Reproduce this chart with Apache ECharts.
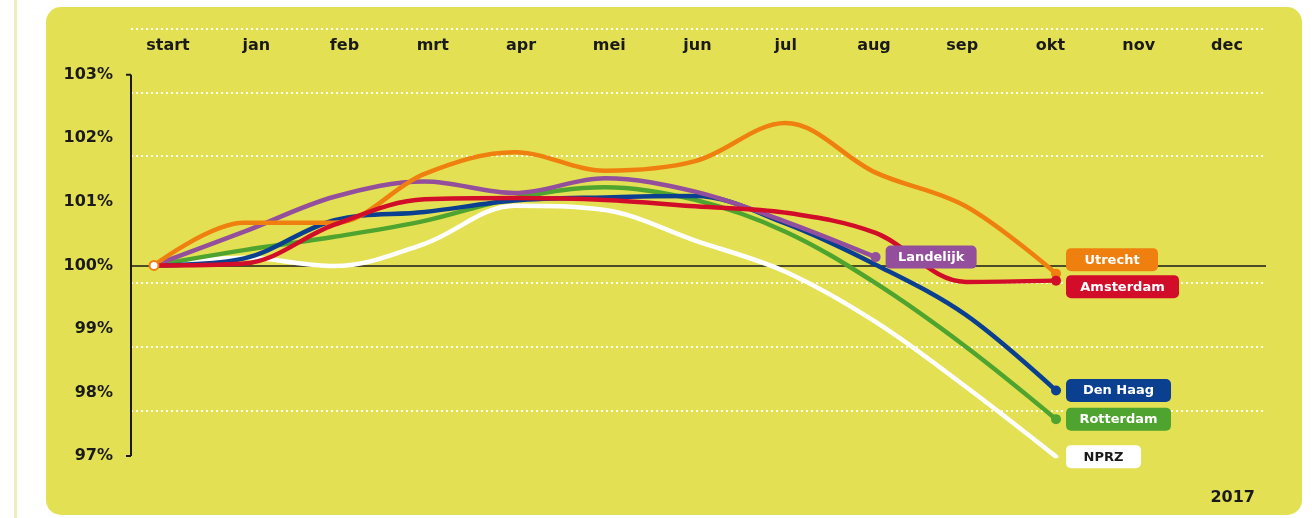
<!DOCTYPE html>
<html>
<head>
<meta charset="utf-8">
<script src="https://cdn.jsdelivr.net/npm/echarts@6/dist/echarts.min.js"></script>
<style>
  html, body { margin: 0; padding: 0; background: #ffffff; }
  #wrap { position: relative; width: 1312px; height: 518px; overflow: hidden; }
  #strip { position: absolute; left: 14px; top: 0; width: 3px; height: 518px; background: #efeeb8; }
  #panel { position: absolute; left: 46px; top: 7px; width: 1256px; height: 508px; background: #e3e153; border-radius: 15px; }
  #chart { position: absolute; left: 0; top: 0; width: 1312px; height: 518px; }
</style>
</head>
<body>
<div id="wrap">
  <div id="strip"></div>
  <div id="panel"></div>
  <div id="chart"></div>
</div>
<script>
// ---- data ----
const monthLabels = ['start', 'jan', 'feb', 'mrt', 'apr', 'mei', 'jun', 'jul', 'aug', 'sep', 'okt', 'nov', 'dec'];
const yTickValues = [97, 98, 99, 100, 101, 102, 103];
const gridLineValues = [103.72, 102.72, 101.72, 99.72, 98.72, 97.72];

const nprz      = [100, 100.12, 99.99, 100.34, 100.94, 100.87, 100.39, 99.90, 99.11, 98.09, 96.99];
const rotterdam = [100, 100.24, 100.45, 100.70, 101.06, 101.23, 101.03, 100.53, 99.72, 98.72, 97.58];
const denHaag   = [100, 100.11, 100.71, 100.84, 101.02, 101.07, 101.09, 100.66, 100.01, 99.22, 98.03];
const landelijk = [100, 100.53, 101.08, 101.32, 101.14, 101.37, 101.16, 100.69, 100.13];
const utrecht   = [100, 100.67, 100.67, 101.44, 101.78, 101.49, 101.64, 102.24, 101.46, 100.93, 99.87];
const amsterdam = [100, 100.03, 100.64, 101.04, 101.06, 101.03, 100.93, 100.83, 100.51, 99.74, 99.76];

const FONT = '"DejaVu Sans", sans-serif';
const X_MIN = -0.255, X_MAX = 12.328;

function mkData(arr, color, withStart) {
  return arr.map((v, i) => {
    const item = { value: [i, v] };
    if (i === arr.length - 1) {
      item.symbol = 'circle';
      item.symbolSize = 10;
      item.itemStyle = { color: color };
    } else if (i === 0 && withStart) {
      item.symbol = 'circle';
      item.symbolSize = 9;
      item.itemStyle = { color: '#ffffff', borderColor: color, borderWidth: 2 };
    }
    return item;
  });
}

function mkSeries(name, arr, color, textColor, boxWidth, offsetY, withStart) {
  return {
    name: name,
    type: 'line',
    xAxisIndex: 0, yAxisIndex: 0,
    z: 3,
    smooth: 0.35,
    symbol: 'none',
    showSymbol: true,
    data: mkData(arr, color, withStart),
    lineStyle: { color: color, width: 4.5, cap: 'round' },
    itemStyle: { color: color },
    emphasis: { disabled: true },
    endLabel: {
      show: true,
      distance: 10,
      offset: [0, offsetY],
      backgroundColor: color,
      borderRadius: 5,
      padding: [4, 0, 3, 0],
      formatter: '{a|' + name + '}',
      rich: {
        a: { width: boxWidth, align: 'center', color: textColor, fontFamily: FONT, fontWeight: 'bold', fontSize: 13, lineHeight: 16 }
      }
    }
  };
}

const chart = echarts.init(document.getElementById('chart'), null, { renderer: 'canvas' });

const option = {
  backgroundColor: 'transparent',
  animation: false,
  title: {
    text: '2017', right: 52, top: 485,
    textStyle: { fontFamily: FONT, fontWeight: 'bold', fontSize: 16, color: '#1a1a1a' }
  },
  grid: [
    { left: 131, right: 46, top: 29, bottom: 62 },
    { left: 168, right: 85, top: 62, height: 10 }
  ],
  xAxis: [
    { type: 'value', gridIndex: 0, min: X_MIN, max: X_MAX, show: false },
    {
      type: 'category', gridIndex: 1, position: 'top', data: monthLabels, boundaryGap: false,
      axisLine: { show: false }, axisTick: { show: false }, splitLine: { show: false },
      axisLabel: { interval: 0, margin: 8, fontFamily: FONT, fontWeight: 'bold', fontSize: 16, color: '#1a1a1a' }
    }
  ],
  yAxis: [
    {
      type: 'value', gridIndex: 0, min: 97, max: 103.72, interval: 1,
      axisLine: { show: false }, axisTick: { show: false }, splitLine: { show: false },
      axisLabel: {
        margin: 18, fontFamily: FONT, fontWeight: 'bold', fontSize: 16, color: '#1a1a1a',
        formatter: v => (yTickValues.indexOf(v) >= 0 ? v + '%' : '')
      }
    },
    { type: 'value', gridIndex: 1, show: false }
  ],
  series: [
    {
      type: 'line', xAxisIndex: 1, yAxisIndex: 1, data: [], silent: true
    },
    {
      type: 'line', xAxisIndex: 0, yAxisIndex: 0, data: [], silent: true, z: 1,
      markLine: {
        z: 1,
        silent: true, symbol: 'none', label: { show: false },
        data: gridLineValues.map(v => ({ yAxis: v, lineStyle: { color: '#ffffff', type: [2, 3], width: 2, opacity: 0.9 } }))
          .concat([{ yAxis: 100, lineStyle: { color: '#1a1a1a', type: 'solid', width: 1.5 } }])
      }
    },
    mkSeries('NPRZ', nprz, '#ffffff', '#1a1a1a', 75, 0, false),
    mkSeries('Rotterdam', rotterdam, '#4ea42e', '#ffffff', 105, 0, false),
    mkSeries('Den Haag', denHaag, '#0b3f8f', '#ffffff', 105, 0, false),
    mkSeries('Landelijk', landelijk, '#944f9c', '#ffffff', 91, 0, false),
    mkSeries('Utrecht', utrecht, '#ef7f0e', '#ffffff', 92, -14, true),
    mkSeries('Amsterdam', amsterdam, '#d20d2a', '#ffffff', 113, 6, false)
  ]
};
chart.setOption(option);

// y-axis line with end ticks, positioned through the chart's own scales
const pTop = chart.convertToPixel({ gridIndex: 0 }, [X_MIN, yTickValues[yTickValues.length - 1]]);
const pBot = chart.convertToPixel({ gridIndex: 0 }, [X_MIN, yTickValues[0]]);
const ax = pTop[0];
chart.setOption({
  graphic: [
    { type: 'line', z: 50, shape: { x1: ax, y1: pTop[1], x2: ax, y2: pBot[1] }, style: { stroke: '#1a1a1a', lineWidth: 2 } },
    { type: 'line', z: 50, shape: { x1: ax - 5, y1: pTop[1], x2: ax, y2: pTop[1] }, style: { stroke: '#1a1a1a', lineWidth: 2 } },
    { type: 'line', z: 50, shape: { x1: ax - 5, y1: pBot[1], x2: ax, y2: pBot[1] }, style: { stroke: '#1a1a1a', lineWidth: 2 } }
  ]
});
</script>
</body>
</html>
